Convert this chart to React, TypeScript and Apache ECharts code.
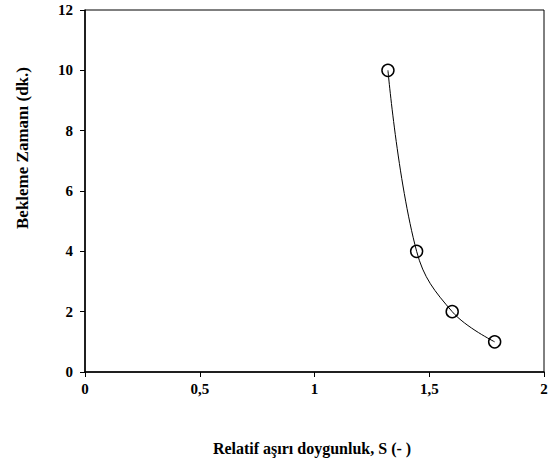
import React, { useEffect, useRef } from "react";
import * as echarts from "echarts";

// Supersaturation S (-) and induction/waiting time (min)
const saturation = [1.32, 1.445, 1.6, 1.785];
const waitTime = [10, 4, 2, 1];
const xTicks = ["0", "0,5", "1", "1,5", "2"];

const FONT = "'Liberation Serif', 'Times New Roman', serif";

export default function App() {
  const ref = useRef<HTMLDivElement>(null);

  useEffect(() => {
    if (!ref.current) return;
    const chart = echarts.init(ref.current, undefined, { renderer: "svg" });
    chart.setOption({
      animation: false,
      backgroundColor: "#ffffff",
      grid: {
        left: 85,
        right: 13,
        top: 10,
        bottom: 100,
        show: true,
        borderColor: "#000",
        borderWidth: 1,
        backgroundColor: "transparent",
      },
      xAxis: {
        type: "value",
        min: 0,
        max: 2,
        interval: 0.5,
        axisLine: { lineStyle: { color: "#000", width: 1.5 } },
        axisTick: { show: true, length: 5, lineStyle: { color: "#000" } },
        splitLine: { show: false },
        axisLabel: {
          color: "#000",
          fontFamily: FONT,
          fontWeight: "bold",
          fontSize: 15,
          margin: 9,
          formatter: (v: number) => xTicks[Math.round(v / 0.5)] ?? "",
        },
      },
      yAxis: {
        type: "value",
        min: 0,
        max: 12,
        interval: 2,
        axisLine: { show: true, lineStyle: { color: "#000", width: 1.5 } },
        axisTick: { show: true, length: 5, lineStyle: { color: "#000" } },
        splitLine: { show: false },
        axisLabel: {
          color: "#000",
          fontFamily: FONT,
          fontWeight: "bold",
          fontSize: 15,
          margin: 12,
        },
      },
      graphic: [
        {
          type: "text",
          x: 312,
          y: 448,
          style: {
            text: "Relatif aşırı doygunluk, S (- )",
            fontFamily: FONT,
            fontWeight: "bold",
            fontSize: 16,
            fill: "#000",
            textAlign: "center",
            textVerticalAlign: "middle",
          },
        },
        {
          type: "text",
          x: 22,
          y: 148,
          rotation: Math.PI / 2,
          style: {
            text: "Bekleme Zamanı (dk.)",
            fontFamily: FONT,
            fontWeight: "bold",
            fontSize: 17,
            fill: "#000",
            textAlign: "center",
            textVerticalAlign: "middle",
          },
        },
      ],
      series: [
        {
          type: "line",
          data: saturation.map((s, i) => [s, waitTime[i]]),
          smooth: 0.4,
          symbol: "circle",
          symbolSize: 12,
          showSymbol: true,
          lineStyle: { color: "#000", width: 1 },
          itemStyle: { color: "transparent", borderColor: "#000", borderWidth: 1.5 },
        },
      ],
    });
    return () => chart.dispose();
  }, []);

  return (
    <div
      ref={ref}
      style={{ width: 557, height: 472, position: "absolute", left: 0, top: 0 }}
    />
  );
}
